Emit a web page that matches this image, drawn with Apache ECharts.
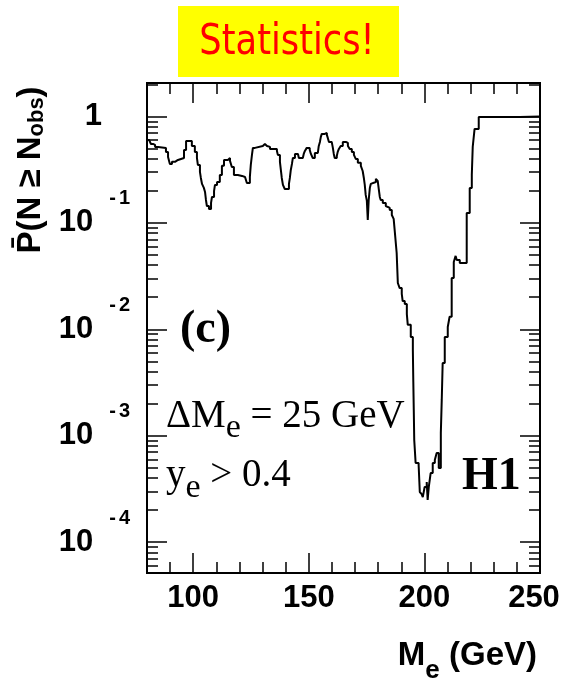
<!DOCTYPE html>
<html>
<head>
<meta charset="utf-8">
<script src="https://cdn.jsdelivr.net/npm/echarts@6/dist/echarts.min.js"></script>
<style>
  html, body { margin: 0; padding: 0; background: #ffffff; }
  #chart { width: 568px; height: 678px; }
</style>
</head>
<body>
<div id="chart"></div>
<script>
// Probability of observing at least N_obs events, scanned in reconstructed mass M_e
const massGeV = [
  80.0, 80.9, 81.7, 82.6, 83.5, 84.8, 88.2, 89.1, 89.9, 90.8, 92.1, 93.4, 96.0, 96.9, 99.4,
  100.7, 101.6, 102.0, 102.9, 103.3, 103.8, 104.6, 105.1, 105.5, 105.9, 106.8, 107.7, 108.1,
  109.0, 109.4, 110.3, 111.5, 112.4, 113.3, 115.0, 115.9, 116.7, 117.6, 119.3, 121.1, 122.4,
  123.2, 124.5, 124.9, 125.4, 125.8, 126.7, 130.1, 131.0, 131.9, 133.2, 136.2, 136.6, 137.5,
  137.9, 138.3, 138.8, 139.6, 141.4, 141.8, 142.2, 142.7, 143.1, 144.0, 145.3, 145.7, 147.4,
  147.8, 148.3, 149.1, 150.4, 150.9, 151.7, 152.6, 153.9, 154.3, 154.8, 155.2, 155.6, 156.9,
  157.8, 158.2, 158.7, 159.9, 160.4, 160.8, 161.2, 162.1, 162.5, 163.0, 163.8, 164.7, 166.0,
  166.9, 167.7, 168.6, 169.5, 170.3, 171.2, 172.5, 173.3, 173.8, 174.2, 174.6, 175.1, 175.5,
  175.9, 176.4, 176.8, 177.2, 179.0, 179.8, 180.3, 180.7, 181.1, 182.0, 183.3, 184.1, 185.0,
  185.9, 186.7, 187.2, 188.0, 188.5, 189.3, 190.2, 190.6, 191.5, 192.4, 192.8, 194.1, 195.0,
  195.2, 195.4, 195.6, 196.2, 197.5, 198.0, 198.8, 199.3, 200.1, 201.0, 201.4, 201.9, 202.7,
  203.6, 204.5, 205.3, 206.2, 207.1, 207.5, 207.9, 208.8, 210.1, 210.9, 211.8, 212.7, 213.5,
  214.0, 215.3, 218.3, 219.6, 220.5, 220.9, 221.7, 223.5, 241.2, 250.0
];
const pValue = [
  0.601, 0.576, 0.551, 0.540, 0.517, 0.506, 0.464, 0.416, 0.358, 0.374, 0.390, 0.407, 0.484, 0.588, 0.528,
  0.464, 0.407, 0.350, 0.301, 0.264, 0.232, 0.213, 0.195, 0.164, 0.144, 0.135, 0.154, 0.175,
  0.199, 0.227, 0.242, 0.282, 0.343, 0.390, 0.407, 0.382, 0.335, 0.282, 0.276, 0.270, 0.259,
  0.237, 0.270, 0.350, 0.435, 0.506, 0.528, 0.551, 0.528, 0.517, 0.495, 0.474, 0.435, 0.374,
  0.314, 0.264, 0.227, 0.208, 0.232, 0.264, 0.314, 0.358, 0.407, 0.444, 0.435, 0.407, 0.407,
  0.444, 0.474, 0.506, 0.484, 0.444, 0.407, 0.454, 0.464, 0.528, 0.576, 0.642, 0.685, 0.700,
  0.670, 0.628, 0.576, 0.588, 0.506, 0.444, 0.407, 0.425, 0.464, 0.495, 0.528, 0.576, 0.563,
  0.528, 0.495, 0.464, 0.435, 0.399, 0.366, 0.343, 0.307, 0.264, 0.227, 0.183, 0.161, 0.1065,
  0.164, 0.213, 0.232, 0.242, 0.259, 0.248, 0.204, 0.175, 0.164, 0.154, 0.144, 0.138, 0.132,
  0.1186, 0.1088, 0.0821, 0.0521, 0.0272, 0.0244, 0.0215, 0.0184, 0.0173, 0.0139, 0.0110, 0.00847, 0.00639,
  0.0032, 0.00174, 0.000911, 0.000554, 0.00053, 0.000296, 0.000283, 0.000265, 0.00033, 0.000367, 0.000249, 0.00033, 0.000446,
  0.000554, 0.000591, 0.000688, 0.000497, 0.00106, 0.00217, 0.00482, 0.00847, 0.0105, 0.0131, 0.0303, 0.0429, 0.0489,
  0.0448, 0.0420, 0.124, 0.213, 0.282, 0.517, 0.763, 0.989, 1.0, 1.0
];

// Axis ticks and labels
const xLabelValues = [100, 150, 200, 250];
const xMajorTicks = [100, 150, 200, 250];
const yMinorTicks = [
  6e-5, 7e-5, 8e-5, 9e-5,
  2e-4, 3e-4, 4e-4, 5e-4, 6e-4, 7e-4, 8e-4, 9e-4,
  2e-3, 3e-3, 4e-3, 5e-3, 6e-3, 7e-3, 8e-3, 9e-3,
  2e-2, 3e-2, 4e-2, 5e-2, 6e-2, 7e-2, 8e-2, 9e-2,
  0.2, 0.3, 0.4, 0.5, 0.6, 0.7, 0.8, 0.9,
  2
];

const SANS = '"Liberation Sans", Arial, sans-serif';
const SERIF = '"Liberation Serif", "Times New Roman", serif';
const Y_MIN = 5.13e-5;
const Y_MAX = 2.06;
const X_MIN = 80;
const X_MAX = 250;

function decadeLabel(v) {
  const lg = Math.log10(v);
  const e = Math.round(lg);
  if (Math.abs(lg - e) > 1e-6) return '';
  if (e === 0) return '{one|1}';
  return '{b|10}{m|-}{e|' + (-e) + '}';
}

const tickStyle = { color: '#000', width: 1.5 };
const labelFont = { fontFamily: SANS, fontWeight: 'bold', color: '#000' };

function xAxisDef(position, major, withLabels) {
  return {
    type: 'value', position: position, min: X_MIN, max: X_MAX, interval: 10,
    axisLine: { show: false }, splitLine: { show: false },
    axisTick: major
      ? { show: true, inside: true, length: 20, lineStyle: tickStyle, customValues: xMajorTicks }
      : { show: true, inside: true, length: 11, lineStyle: tickStyle },
    axisLabel: withLabels ? {
      show: true, margin: 10, color: '#000', customValues: xLabelValues,
      formatter: v => (v === 250 ? '{last|250}' : '{n|' + v + '}'),
      rich: {
        n: Object.assign({ fontSize: 31 }, labelFont),
        last: Object.assign({ fontSize: 31, padding: [0, 12, 0, 0] }, labelFont)
      }
    } : { show: false }
  };
}

function yAxisDef(position, major, withLabels) {
  return {
    type: 'log', logBase: 10, position: position, min: Y_MIN, max: Y_MAX,
    axisLine: { show: false }, splitLine: { show: false },
    axisTick: major
      ? { show: true, inside: true, length: 20, lineStyle: tickStyle }
      : { show: true, inside: true, length: 11, lineStyle: tickStyle, customValues: yMinorTicks },
    axisLabel: withLabels ? {
      show: true, margin: 17, color: '#000',
      formatter: decadeLabel,
      rich: {
        one: Object.assign({ fontSize: 31, padding: [0, 28, 0, 0] }, labelFont),
        b: Object.assign({ fontSize: 31 }, labelFont),
        m: Object.assign({ fontSize: 20, padding: [0, 3, 48, 16] }, labelFont),
        e: Object.assign({ fontSize: 20, padding: [0, 0, 48, 0] }, labelFont)
      }
    } : { show: false }
  };
}

const chart = echarts.init(document.getElementById('chart'), null, { renderer: 'canvas' });

chart.setOption({
  animation: false,
  backgroundColor: '#ffffff',
  grid: {
    left: 147, right: 28, top: 83, bottom: 105,
    show: true, borderColor: '#000', borderWidth: 2, backgroundColor: 'transparent',
    containLabel: false, outerBoundsMode: 'none'
  },
  xAxis: [
    xAxisDef('bottom', false, true),
    xAxisDef('bottom', true, false),
    xAxisDef('top', false, false),
    xAxisDef('top', true, false)
  ],
  yAxis: [
    yAxisDef('left', true, true),
    yAxisDef('left', false, false),
    yAxisDef('right', true, false),
    yAxisDef('right', false, false)
  ],
  series: [{
    type: 'line',
    xAxisIndex: 0, yAxisIndex: 0,
    data: massGeV.map((m, i) => [m, pValue[i]]),
    step: 'end',
    symbol: 'none', showSymbol: false,
    lineStyle: { color: '#000', width: 2 },
    clip: true
  }],
  graphic: [
    { type: 'rect', shape: { x: 178, y: 6, width: 221, height: 71 }, style: { fill: '#ffff00' } },
    {
      type: 'text', x: 287, y: 43, scaleX: 0.84,
      style: { text: 'Statistics!', fill: '#ff0000', font: '42px "DejaVu Sans"',
               textAlign: 'center', textVerticalAlign: 'middle' }
    },
    {
      type: 'text', x: 31, y: 170, rotation: Math.PI / 2,
      style: {
        text: '{n|P\u0304(N \u2265 N}{s|obs}{n|)}',
        fill: '#000', textAlign: 'center', textVerticalAlign: 'middle',
        rich: {
          n: { fontSize: 33, fontFamily: SANS, fontWeight: 'bold', fill: '#000' },
          s: { fontSize: 22, fontFamily: SANS, fontWeight: 'bold', fill: '#000', padding: [12, 0, 0, 0] }
        }
      }
    },
    {
      type: 'text', x: 537, y: 656,
      style: {
        text: '{n|M}{s|e}{n| (GeV)}',
        fill: '#000', textAlign: 'right', textVerticalAlign: 'middle',
        rich: {
          n: { fontSize: 33, fontFamily: SANS, fontWeight: 'bold', fill: '#000' },
          s: { fontSize: 26, fontFamily: SANS, fontWeight: 'bold', fill: '#000', padding: [30, 0, 0, 0] }
        }
      }
    },
    {
      type: 'text', x: 180, y: 330,
      style: { text: '(c)', fill: '#000', font: 'bold 46px ' + SERIF,
               textAlign: 'left', textVerticalAlign: 'middle' }
    },
    {
      type: 'text', x: 166, y: 417,
      style: {
        text: '{n|\u0394M}{s|e}{n| = 25 GeV}',
        fill: '#000', textAlign: 'left', textVerticalAlign: 'middle',
        rich: {
          n: { fontSize: 39, fontFamily: SERIF, fill: '#000' },
          s: { fontSize: 34, fontFamily: SERIF, fill: '#000', padding: [22, 0, 0, 0] }
        }
      }
    },
    {
      type: 'text', x: 166, y: 476,
      style: {
        text: '{n|y}{s|e}{n| > 0.4}',
        fill: '#000', textAlign: 'left', textVerticalAlign: 'middle',
        rich: {
          n: { fontSize: 39, fontFamily: SERIF, fill: '#000' },
          s: { fontSize: 34, fontFamily: SERIF, fill: '#000', padding: [24, 0, 0, 0] }
        }
      }
    },
    {
      type: 'text', x: 462, y: 477,
      style: { text: 'H1', fill: '#000', font: 'bold 46px ' + SERIF,
               textAlign: 'left', textVerticalAlign: 'middle' }
    }
  ]
});
</script>
</body>
</html>
